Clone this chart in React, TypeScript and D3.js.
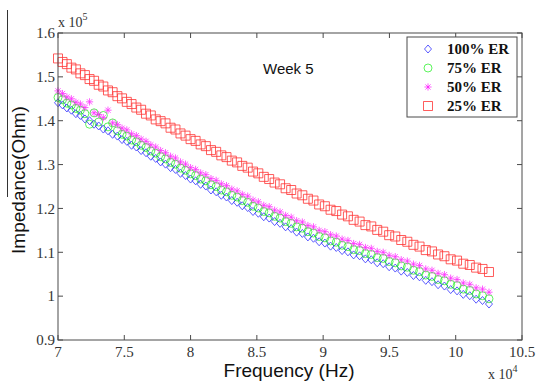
import React from "react";
import * as d3 from "d3";

// frequency (x 10^4 Hz), log-spaced sweep
const freq = [
  7.000, 7.034, 7.067, 7.101, 7.135, 7.169, 7.203, 7.238, 7.272, 7.307,
  7.342, 7.377, 7.412, 7.448, 7.483, 7.519, 7.555, 7.591, 7.627, 7.664,
  7.700, 7.737, 7.774, 7.811, 7.849, 7.886, 7.924, 7.962, 8.000, 8.038,
  8.076, 8.115, 8.154, 8.193, 8.232, 8.271, 8.311, 8.351, 8.390, 8.431,
  8.471, 8.511, 8.552, 8.593, 8.634, 8.675, 8.717, 8.759, 8.800, 8.843,
  8.885, 8.927, 8.970, 9.013, 9.056, 9.099, 9.143, 9.187, 9.230, 9.275,
  9.319, 9.363, 9.408, 9.453, 9.498, 9.544, 9.589, 9.635, 9.681, 9.727,
  9.774, 9.821, 9.867, 9.915, 9.962, 10.010, 10.057, 10.106, 10.154, 10.202,
  10.251,
];

// impedance (x 10^5 Ohm)
const er100 = [
  1.441, 1.436, 1.429, 1.424, 1.416, 1.412, 1.404, 1.400, 1.392, 1.388,
  1.381, 1.377, 1.369, 1.365, 1.357, 1.353, 1.344, 1.340, 1.332, 1.327,
  1.319, 1.314, 1.306, 1.301, 1.293, 1.289, 1.280, 1.275, 1.267, 1.263,
  1.255, 1.251, 1.242, 1.238, 1.230, 1.226, 1.218, 1.214, 1.206, 1.202,
  1.193, 1.189, 1.181, 1.178, 1.170, 1.166, 1.158, 1.154, 1.146, 1.143,
  1.135, 1.132, 1.124, 1.121, 1.114, 1.111, 1.104, 1.101, 1.094, 1.092,
  1.085, 1.083, 1.076, 1.074, 1.067, 1.064, 1.057, 1.054, 1.047, 1.044,
  1.036, 1.033, 1.026, 1.023, 1.015, 1.012, 1.004, 1.001, 0.993, 0.990,
  0.982,
];
const er75 = [
  1.453, 1.448, 1.440, 1.436, 1.428, 1.424, 1.416, 1.392, 1.418, 1.397,
  1.412, 1.386, 1.395, 1.377, 1.369, 1.365, 1.356, 1.352, 1.344, 1.339,
  1.331, 1.326, 1.318, 1.313, 1.305, 1.301, 1.292, 1.287, 1.279, 1.275,
  1.267, 1.263, 1.254, 1.250, 1.242, 1.238, 1.230, 1.226, 1.218, 1.214,
  1.205, 1.201, 1.193, 1.190, 1.182, 1.178, 1.170, 1.166, 1.158, 1.155,
  1.147, 1.144, 1.136, 1.133, 1.126, 1.123, 1.116, 1.113, 1.106, 1.104,
  1.097, 1.095, 1.088, 1.086, 1.079, 1.076, 1.069, 1.066, 1.059, 1.056,
  1.048, 1.045, 1.038, 1.035, 1.027, 1.024, 1.016, 1.013, 1.005, 1.001,
  0.994,
];
const er50 = [
  1.468, 1.462, 1.454, 1.450, 1.442, 1.438, 1.430, 1.443, 1.418, 1.414,
  1.407, 1.424, 1.395, 1.391, 1.383, 1.379, 1.370, 1.366, 1.358, 1.353,
  1.345, 1.340, 1.332, 1.327, 1.319, 1.315, 1.306, 1.301, 1.293, 1.289,
  1.281, 1.277, 1.268, 1.264, 1.256, 1.252, 1.244, 1.240, 1.232, 1.228,
  1.219, 1.215, 1.207, 1.204, 1.196, 1.192, 1.184, 1.180, 1.172, 1.169,
  1.161, 1.158, 1.150, 1.147, 1.140, 1.137, 1.130, 1.127, 1.120, 1.118,
  1.111, 1.109, 1.102, 1.100, 1.093, 1.090, 1.083, 1.080, 1.073, 1.070,
  1.062, 1.059, 1.052, 1.049, 1.041, 1.038, 1.030, 1.027, 1.019, 1.016,
  1.009,
];
const er25 = [
  1.542, 1.534, 1.529, 1.521, 1.517, 1.508, 1.504, 1.495, 1.491, 1.482,
  1.478, 1.469, 1.465, 1.456, 1.451, 1.443, 1.438, 1.430, 1.425, 1.416,
  1.412, 1.403, 1.399, 1.394, 1.384, 1.380, 1.371, 1.366, 1.358, 1.354,
  1.346, 1.342, 1.333, 1.329, 1.321, 1.317, 1.309, 1.305, 1.297, 1.293,
  1.284, 1.280, 1.272, 1.267, 1.259, 1.255, 1.246, 1.242, 1.234, 1.230,
  1.222, 1.218, 1.209, 1.205, 1.197, 1.194, 1.186, 1.182, 1.174, 1.170,
  1.162, 1.159, 1.151, 1.147, 1.139, 1.136, 1.128, 1.124, 1.117, 1.113,
  1.105, 1.102, 1.095, 1.091, 1.084, 1.081, 1.074, 1.071, 1.065, 1.062,
  1.055,
];

const xTicks = [7, 7.5, 8, 8.5, 9, 9.5, 10, 10.5];
const yTicks = [0.9, 1, 1.1, 1.2, 1.3, 1.4, 1.5, 1.6];

const series = [
  {name: "100% ER", values: er100, color: "#0000ff", marker: "diamond"},
  {name: "75% ER", values: er75, color: "#00ee00", marker: "circle"},
  {name: "50% ER", values: er50, color: "#ff00ff", marker: "star"},
  {name: "25% ER", values: er25, color: "#ff0000", marker: "square"},
];

const W = 536, H = 382;
const margin = {top: 33, right: 14, bottom: 42, left: 58};

const markerPath = (kind: string) => {
  switch (kind) {
    case "diamond":
      return "M0,-4L3.5,0L0,4L-3.5,0Z";
    case "circle":
      return "M4,0A4,4 0 1,1 -4,0A4,4 0 1,1 4,0Z";
    case "star":
      return "M-3.6,0L3.6,0M0,-3.6L0,3.6M-2.6,-2.6L2.6,2.6M-2.6,2.6L2.6,-2.6";
    default:
      return "M-4.5,-4.5L4.5,-4.5L4.5,4.5L-4.5,4.5Z";
  }
};

export default function App() {
  const x = d3.scaleLinear().domain([7, 10.5]).range([margin.left, W - margin.right]);
  const y = d3.scaleLinear().domain([0.9, 1.6]).range([H - margin.bottom, margin.top]);
  const [x0, x1] = x.range();
  const [y0, y1] = y.range();
  const axisColor = "#4a4a4a";
  const serif = "'Liberation Serif', 'Times New Roman', serif";
  const sans = "'Liberation Sans', Arial, sans-serif";

  return (
    <div style={{position: "fixed", left: 0, top: 0}}>
      <svg width={W} height={H} style={{display: "block", background: "#fff"}}>
        {/* data */}
        {series.map((s) => (
          <g key={s.name} fill="none" stroke={s.color} strokeWidth={0.8} opacity={0.8}>
            {s.values.map((v, i) => (
              <path key={i} d={markerPath(s.marker)}
                    transform={`translate(${x(freq[i])},${y(v)})`} />
            ))}
          </g>
        ))}

        {/* frame */}
        <rect x={x0} y={y1} width={x1 - x0} height={y0 - y1}
              fill="none" stroke={axisColor} strokeWidth={1} />
        {xTicks.map((t) => (
          <g key={"x" + t} stroke={axisColor}>
            <line x1={x(t)} x2={x(t)} y1={y0} y2={y0 - 5} />
            <line x1={x(t)} x2={x(t)} y1={y1} y2={y1 + 5} />
          </g>
        ))}
        {yTicks.map((t) => (
          <g key={"y" + t} stroke={axisColor}>
            <line x1={x0} x2={x0 + 5} y1={y(t)} y2={y(t)} />
            <line x1={x1} x2={x1 - 5} y1={y(t)} y2={y(t)} />
          </g>
        ))}
        {xTicks.map((t) => (
          <text key={"xl" + t} x={x(t)} y={357} textAnchor="middle"
                fontFamily={serif} fontSize={15} fill="#333">{t}</text>
        ))}
        {yTicks.map((t) => (
          <text key={"yl" + t} x={55} y={y(t)} textAnchor="end" dy="0.35em"
                fontFamily={serif} fontSize={15} fill="#333">{t}</text>
        ))}

        {/* exponents */}
        <text x={58} y={27} fontFamily={serif} fontSize={14} fill="#333">
          x 10<tspan dy={-7} fontSize={10}>5</tspan>
        </text>
        <text x={488} y={379} fontFamily={serif} fontSize={14} fill="#333">
          x 10<tspan dy={-7} fontSize={10}>4</tspan>
        </text>

        {/* labels */}
        <text x={289} y={377} textAnchor="middle" fontFamily={sans} fontSize={19} fill="#111">
          Frequency (Hz)
        </text>
        <text transform="translate(25,180) rotate(-90)" textAnchor="middle"
              fontFamily={sans} fontSize={19} fill="#111">Impedance(Ohm)</text>
        <line x1={7.5} x2={7.5} y1={10} y2={197} stroke="#333" strokeWidth={1} />
        <text x={263} y={74} fontFamily={sans} fontSize={15} fill="#111">Week 5</text>

        {/* legend */}
        <rect x={407} y={37} width={110} height={80} fill="#fff" stroke={axisColor} strokeWidth={1} />
        {series.map((s, i) => (
          <g key={"lg" + s.name}>
            <path d={markerPath(s.marker)} transform={`translate(428,${49 + i * 19})`}
                  fill="none" stroke={s.color} strokeWidth={0.8} opacity={0.8} />
            <text x={447} y={49 + i * 19} dy="0.35em" fontFamily={serif}
                  fontWeight="bold" fontSize={15} fill="#111">{s.name}</text>
          </g>
        ))}
      </svg>
    </div>
  );
}
